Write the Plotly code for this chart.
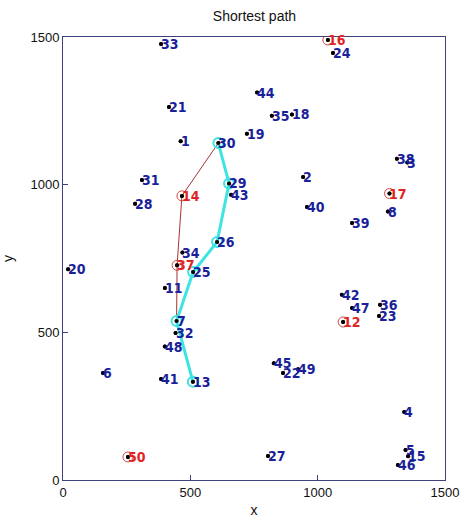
import plotly.graph_objects as go

# node ids and coordinates
node_ids = [1, 2, 3, 4, 5, 6, 7, 8, 11, 12, 13, 14, 15, 16, 17, 18, 19, 20,
            21, 22, 23, 24, 25, 26, 27, 28, 29, 30, 31, 32, 33, 34, 35, 36,
            37, 38, 39, 40, 41, 42, 43, 44, 45, 46, 47, 48, 49, 50]
node_x = [462, 943, 1352, 1340, 1345, 157, 446, 1276, 400, 1100, 510, 467,
          1355, 1040, 1282, 899, 722, 20, 416, 864, 1241, 1060, 511, 605,
          805, 283, 652, 610, 310, 442, 385, 469, 820, 1245, 448, 1311,
          1135, 958, 385, 1095, 660, 762, 828, 1315, 1135, 400, 923, 255]
node_y = [1147, 1026, 1075, 230, 102, 362, 538, 909, 650, 535, 333, 962,
          80, 1490, 970, 1238, 1172, 714, 1263, 362, 555, 1446, 704, 806,
          81, 935, 1004, 1141, 1016, 498, 1476, 770, 1233, 593, 727, 1088,
          870, 924, 342, 627, 966, 1312, 395, 51, 582, 452, 375, 78]

red_nodes = [16, 17, 14, 37, 50, 12]
path_cyan = [30, 29, 26, 25, 7, 13]
path_red = [30, 14, 37, 7]

TITLE = "Shortest path"
X_LABEL = "x"
Y_LABEL = "y"
TICKS = [0, 500, 1000, 1500]

pos = {n: (x, y) for n, x, y in zip(node_ids, node_x, node_y)}

AX_COLOR = "#40407a"
BLUE = "#1b1f9a"
RED = "#e02424"
FONT = "DejaVu Sans Condensed, Liberation Sans Narrow, Liberation Sans, Arial, sans-serif"
TFONT = "Liberation Sans, Arial, sans-serif"

fig = go.Figure()

fig.add_trace(go.Scatter(x=node_x, y=node_y, mode="markers",
                         marker=dict(color="black", size=4),
                         hoverinfo="skip", showlegend=False))

fig.add_trace(go.Scatter(x=[pos[n][0] for n in path_red],
                         y=[pos[n][1] for n in path_red],
                         mode="lines", line=dict(color="#a83232", width=1),
                         hoverinfo="skip", showlegend=False))

fig.add_trace(go.Scatter(x=[pos[n][0] for n in path_cyan],
                         y=[pos[n][1] for n in path_cyan],
                         mode="lines+markers",
                         line=dict(color="#3fe3e3", width=3),
                         marker=dict(symbol="circle-open", size=10,
                                     color="#3fe3e3", line=dict(width=2)),
                         hoverinfo="skip", showlegend=False))

fig.add_trace(go.Scatter(x=[pos[n][0] for n in red_nodes],
                         y=[pos[n][1] for n in red_nodes],
                         mode="markers",
                         marker=dict(symbol="circle-open", size=10,
                                     color="#d04848", line=dict(width=1)),
                         hoverinfo="skip", showlegend=False))

fig.add_trace(go.Scatter(x=node_x, y=node_y, mode="markers",
                         marker=dict(color="black", size=4),
                         hoverinfo="skip", showlegend=False))

annotations = []
for n, x, y in zip(node_ids, node_x, node_y):
    annotations.append(dict(
        x=x, y=y, xref="x", yref="y", text="<b>%d</b>" % n, showarrow=False,
        xanchor="left", yanchor="middle", xshift=-2,
        font=dict(family=FONT, size=14,
                  color=RED if n in red_nodes else BLUE),
    ))

axis_common = dict(
    range=[0, 1500], tickvals=TICKS, ticktext=[str(t) for t in TICKS],
    showline=True, linecolor=AX_COLOR, linewidth=1, mirror=True,
    ticks="inside", ticklen=5, tickcolor=AX_COLOR,
    showgrid=False, zeroline=False, automargin=False,
    tickfont=dict(family=TFONT, size=13, color="#111111"),
)

fig.update_layout(
    width=461, height=525,
    margin=dict(l=63, r=16, t=37, b=45, autoexpand=False),
    paper_bgcolor="white", plot_bgcolor="white",
    title=dict(text=TITLE, x=0.552, xanchor="center", y=0.978, yanchor="top",
               font=dict(family=TFONT, size=14, color="#111111")),
    xaxis=dict(**axis_common,
               title=dict(text=X_LABEL, standoff=6,
                          font=dict(family=TFONT, size=14, color="#111111"))),
    yaxis=dict(**axis_common,
               title=dict(text=Y_LABEL, standoff=20,
                          font=dict(family=TFONT, size=14, color="#111111"))),
    annotations=annotations,
)

fig.write_html(
    "out.html",
    config={"displayModeBar": False},
    post_script="document.body.style.margin='0';"
                "document.body.style.overflow='hidden';",
)
